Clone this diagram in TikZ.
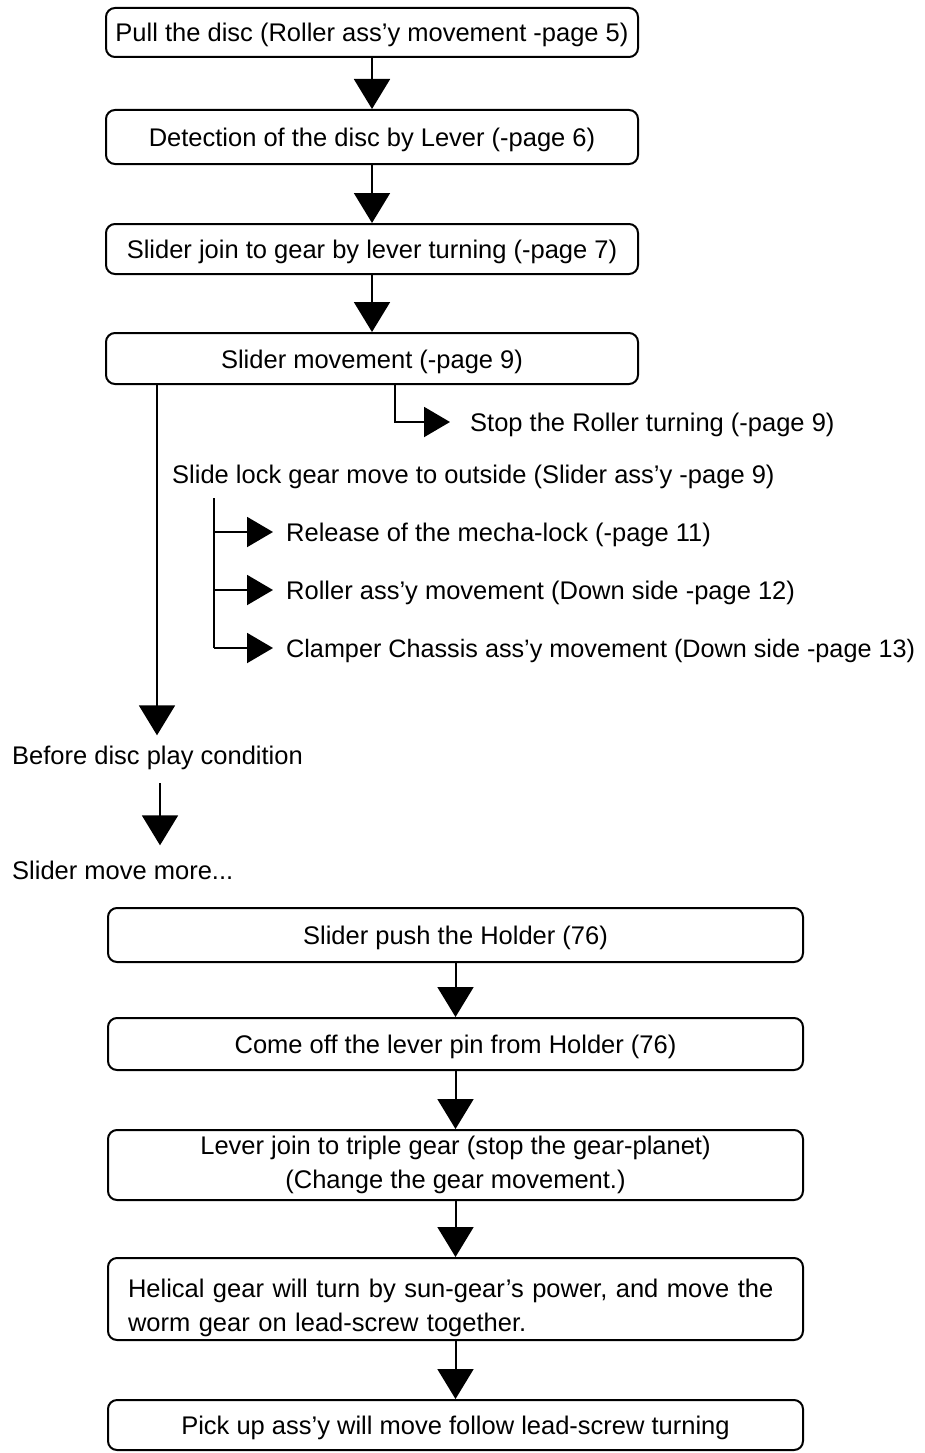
\documentclass[tikz,border=0pt]{standalone}
\usepackage{fontspec}
\setmainfont{Liberation Sans}
\usetikzlibrary{arrows.meta}
\begin{document}
\begin{tikzpicture}[x=1pt,y=-1pt,
  txt/.style={font=\fontsize{25.5}{33.5}\selectfont},
  one/.style={text height=22pt,text depth=3pt},
  box/.style={txt,draw,line width=2pt,rounded corners=9pt,inner sep=0pt,align=center},
  topbox/.style={box,one,minimum width=532pt},
  lowbox/.style={box,minimum width=695pt},
  lbl/.style={txt,one,inner sep=0pt,anchor=west},
  ln/.style={line width=2pt},
  arr/.style={line width=2pt,-{Triangle[width=36pt,length=30pt]}},
  sarr/.style={line width=2pt,-{Triangle[width=30pt,length=26pt]}}]
\useasboundingbox (0,0) rectangle (925,1453);
% top boxes
\node[topbox,minimum height=49pt] (b1) at (372,32.5) {Pull the disc (Roller ass’y movement -page 5)};
\node[topbox,minimum height=54pt] (b2) at (372,137) {Detection of the disc by Lever (-page 6)};
\node[topbox,minimum height=50pt] (b3) at (372,249) {Slider join to gear by lever turning (-page 7)};
\node[topbox,minimum height=51pt] (b4) at (372,358.5) {Slider movement (-page 9)};
\draw[arr] (b1.south) -- (b2.north);
\draw[arr] (b2.south) -- (b3.north);
\draw[arr] (b3.south) -- (b4.north);
% stop branch
\node[lbl] (stop) at (470,422) {Stop the Roller turning (-page 9)};
\coordinate (s0) at (395,384);
\draw[sarr] (b4.south -| s0) |- ([xshift=-20pt]stop.west);
% slide lock
\node[lbl] (slide) at (172,474) {Slide lock gear move to outside (Slider ass’y -page 9)};
\node[lbl] (rel) at (286,532) {Release of the mecha-lock (-page 11)};
\node[lbl] (rol) at (286,590) {Roller ass’y movement (Down side -page 12)};
\node[lbl,font=\fontsize{25.2}{33}\selectfont] (cla) at (286,648) {Clamper Chassis ass’y movement (Down side -page 13)};
\coordinate (t) at (214,498);
\draw[ln] (t) -- (t |- cla.west);
\draw[sarr] (t |- rel.west) -- ([xshift=-13pt]rel.west);
\draw[sarr] (t |- rol.west) -- ([xshift=-13pt]rol.west);
\draw[sarr] (t |- cla.west) -- ([xshift=-13pt]cla.west);
% main line
\node[lbl] (before) at (12,755) {Before disc play condition};
\node[lbl] (more) at (12,870) {Slider move more...};
\coordinate (m0) at (157,384);
\draw[arr,shorten >=7pt] (b4.south -| m0) -- (m0 |- before.north);
\coordinate (m1) at (160,783);
\draw[arr,shorten >=12pt] (m1) -- (m1 |- more.north);
% lower boxes
\node[lowbox,one,minimum height=54pt] (b5) at (455.5,935) {Slider push the Holder (76)};
\node[lowbox,one,minimum height=52pt] (b6) at (455.5,1044) {Come off the lever pin from Holder (76)};
\node[lowbox,minimum height=70pt] (b7) at (455.5,1165) {Lever join to triple gear (stop the gear-planet)\\(Change the gear movement.)};
\node[lowbox,minimum height=82pt,align=left,text width=655pt] (b8) at (455.5,1299) {\rule{0pt}{36pt}Helical gear will turn by sun-gear’s power, and move the\\worm gear on lead-screw together.};
\node[lowbox,one,minimum height=50pt] (b9) at (455.5,1425) {Pick up ass’y will move follow lead-screw turning};
\draw[arr] (b5.south) -- (b6.north);
\draw[arr] (b6.south) -- (b7.north);
\draw[arr] (b7.south) -- (b8.north);
\draw[arr] (b8.south) -- (b9.north);
\end{tikzpicture}
\end{document}
